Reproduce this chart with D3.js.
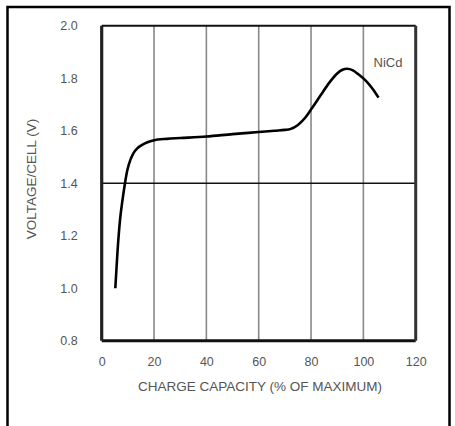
<!DOCTYPE html>
<html>
<head>
<meta charset="utf-8">
<script src="https://cdn.jsdelivr.net/npm/d3@7"></script>
<style>
  html, body { margin: 0; padding: 0; background: #fff; }
  svg { display: block; }
  .tick text { font-family: "Liberation Sans Narrow", "Arial Narrow", "Liberation Sans", sans-serif; fill: #555; }
</style>
</head>
<body>
<svg id="chart" width="455" height="426"></svg>
<script>
// ---- data ----
const capacity = [5.2, 6.0, 7.0, 8.0, 8.9, 9.8, 11.0, 12.1, 13.5, 15.3, 17.5, 19.7, 24.9, 30, 40, 50, 60, 66, 70, 72, 75, 78, 80.3, 84, 87.3, 90, 92, 93.7, 96, 98.1, 101, 103.5, 105.8];
const voltage  = [1.0, 1.133, 1.26, 1.34, 1.4, 1.45, 1.49, 1.514, 1.532, 1.545, 1.556, 1.563, 1.569, 1.572, 1.578, 1.587, 1.595, 1.600, 1.603, 1.606, 1.622, 1.652, 1.685, 1.74, 1.787, 1.818, 1.832, 1.836, 1.83, 1.815, 1.79, 1.76, 1.726];
const xTicks = [0, 20, 40, 60, 80, 100, 120];
const yTicks = [0.8, 1.0, 1.2, 1.4, 1.6, 1.8, 2.0];
const gridX = [20, 40, 60, 80, 100];
const refLine = [1.4];
const seriesLabel = "NiCd";
const xTitle = "CHARGE CAPACITY (% OF MAXIMUM)";
const yTitle = "VOLTAGE/CELL (V)";

const svg = d3.select("#chart");
const font = '"Liberation Sans Narrow", "Arial Narrow", "Liberation Sans", sans-serif';

// outer frame
svg.append("rect").attr("x", 7.5).attr("y", 7).attr("width", 442).attr("height", 440)
  .attr("fill", "none").attr("stroke", "#000").attr("stroke-width", 2.5);

const x = d3.scaleLinear().domain([0, 120]).range([101.7, 415.7]);
const y = d3.scaleLinear().domain([0.8, 2.0]).range([340.7, 25.7]);

// vertical gridlines
svg.append("g").selectAll("line").data(gridX).join("line")
  .attr("x1", d => x(d)).attr("x2", d => x(d))
  .attr("y1", y(2.0)).attr("y2", y(0.8))
  .attr("stroke", "#888").attr("stroke-width", 1.6);

// reference line
svg.append("g").selectAll("line").data(refLine).join("line")
  .attr("x1", x(0)).attr("x2", x(120))
  .attr("y1", d => y(d)).attr("y2", d => y(d))
  .attr("stroke", "#111").attr("stroke-width", 1.5);

// plot frame
svg.append("line").attr("x1", x(0)).attr("x2", x(120)).attr("y1", y(2.0)).attr("y2", y(2.0))
  .attr("stroke", "#111").attr("stroke-width", 2);
svg.append("line").attr("x1", x(0)).attr("x2", x(120)).attr("y1", y(0.8)).attr("y2", y(0.8))
  .attr("stroke", "#111").attr("stroke-width", 3);
svg.append("line").attr("x1", x(0)).attr("x2", x(0)).attr("y1", y(2.0)).attr("y2", y(0.8))
  .attr("stroke", "#222").attr("stroke-width", 3.2);
svg.append("line").attr("x1", x(120)).attr("x2", x(120)).attr("y1", y(2.0)).attr("y2", y(0.8))
  .attr("stroke", "#333").attr("stroke-width", 3);

// axes (labels only)
const yAxis = d3.axisLeft(y).tickValues(yTicks).tickFormat(d3.format(".1f")).tickSize(0).tickPadding(24);
const gy = svg.append("g").attr("transform", `translate(${x(0)},0)`).call(yAxis);
gy.select(".domain").remove();
gy.selectAll("text").attr("font-size", 12.5).attr("font-family", font).attr("fill", "#555");

const xAxis = d3.axisBottom(x).tickValues(xTicks).tickFormat(d3.format("d")).tickSize(0).tickPadding(16);
const gx = svg.append("g").attr("transform", `translate(0,${y(0.8)})`).call(xAxis);
gx.select(".domain").remove();
gx.selectAll("text").attr("font-size", 12.5).attr("font-family", font).attr("fill", "#555");

// curve
const pts = capacity.map((c, i) => [c, voltage[i]]);
const line = d3.line().x(d => x(d[0])).y(d => y(d[1])).curve(d3.curveMonotoneX);
svg.append("path").datum(pts).attr("d", line)
  .attr("fill", "none").attr("stroke", "#000").attr("stroke-width", 2.6)
  .attr("stroke-linecap", "butt").attr("stroke-linejoin", "round");

// series label
svg.append("text").attr("x", 388).attr("y", 62).attr("text-anchor", "middle").attr("dy", "0.35em")
  .attr("font-family", font).attr("font-size", 13).attr("fill", "#555").text(seriesLabel);

// axis titles
svg.append("text").attr("x", 260).attr("y", 386).attr("text-anchor", "middle").attr("dy", "0.35em")
  .attr("font-family", font).attr("font-size", 13.5).attr("fill", "#555").text(xTitle);
svg.append("text").attr("transform", "translate(31,179) rotate(-90)").attr("text-anchor", "middle").attr("dy", "0.35em")
  .attr("font-family", font).attr("font-size", 13.5).attr("fill", "#555").text(yTitle);
</script>
</body>
</html>
